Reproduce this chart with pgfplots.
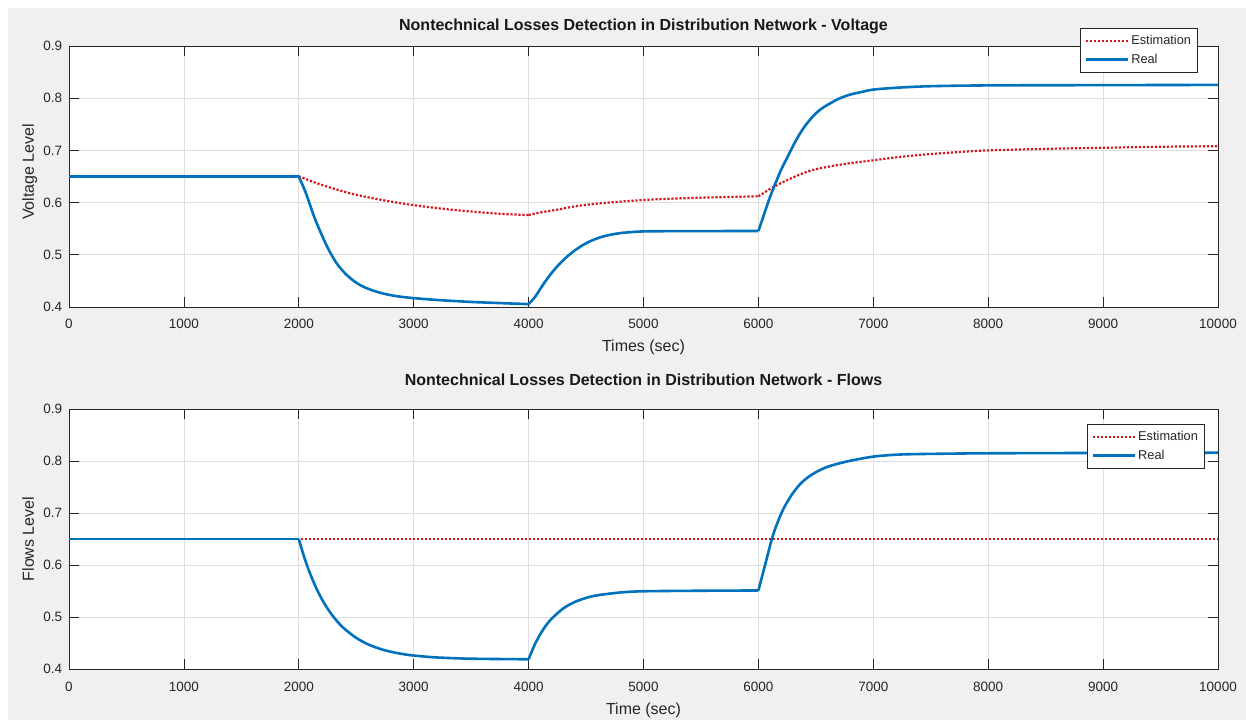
\documentclass[border=0pt]{standalone}
\usepackage{pgfplots}
\pgfplotsset{compat=1.18}
\usepackage{fontspec}
\setmainfont{Liberation Sans}
\definecolor{mblue}{rgb}{0,0.447,0.741}
\definecolor{mred}{RGB}{215,20,30}
\definecolor{axc}{rgb}{0.15,0.15,0.15}
\definecolor{gridc}{rgb}{0.87,0.87,0.87}
\definecolor{figbg}{RGB}{240,240,240}
\pgfplotsset{
 common/.style={
  scale only axis, width=1149pt,
  xmin=0, xmax=10000, ymin=0.4, ymax=0.9,
  axis background/.style={fill=white},
  xtick={0,1000,2000,3000,4000,5000,6000,7000,8000,9000,10000},
  ytick={0.4,0.5,0.6,0.7,0.8,0.9},
  scaled x ticks=false,
  /pgf/number format/assume math mode=true,
  /pgf/number format/1000 sep={},
  yticklabel style={/pgf/number format/fixed, /pgf/number format/precision=1, anchor=east, inner sep=0pt, xshift=-6.7pt},
  xticklabel style={anchor=base, inner sep=0pt, yshift=-22pt},
  tick label style={font=\fontsize{13.5}{15}\selectfont, text=axc},
  tick align=inside, major tick length=10pt,
  tick style={axc, line width=0.8pt},
  axis line style={axc, line width=0.8pt},
  grid=major, major grid style={gridc, line width=0.7pt},
  title style={font=\bfseries\fontsize{16}{18}\selectfont, text=black!90, at={(0.5,1)}, anchor=base, inner sep=0pt, yshift=9pt},
  xlabel style={at={(axis description cs:0.5,0)}, anchor=base, inner sep=0pt, yshift=-45pt, font=\fontsize{16}{18}\selectfont, text=axc},
  ylabel style={anchor=base, inner sep=0pt, font=\fontsize{16}{18}\selectfont, text=axc},
  legend cell align=left,
  legend image code/.code={\draw[#1] (0pt,0pt) -- (42pt,0pt);},
  legend style={draw=axc, line width=0.6pt, fill=white, font=\fontsize{12.8}{15}\selectfont, text=axc, inner xsep=4pt, inner ysep=5pt, row sep=4pt},
 },
 estim/.style={mred, line width=2.2pt, dash pattern=on 2.2pt off 1.8pt},
 real/.style={mblue, line width=2.6pt, line join=round},
}
\begin{document}
\begin{tikzpicture}
\fill[white] (0,0) rectangle (1246pt,720pt);
\fill[figbg] (8pt,0) rectangle (1246pt,712pt);
\fill[white] (69pt,413pt) rectangle (1218pt,674pt);
\fill[white] (69pt,51pt) rectangle (1218pt,311pt);
\begin{axis}[common, at={(69pt,413pt)}, anchor=south west, height=261pt,
  title={Nontechnical Losses Detection in Distribution Network - Voltage},
  xlabel={Times (sec)}, ylabel={Voltage Level},
  ylabel style={at={(axis description cs:-0.0305,0.518)}},
  legend style={at={(0.982,1.069)}, anchor=north east}]
\addplot[estim] coordinates {(0,0.65)(2000,0.6506)};
\addlegendentry{Estimation}
\addplot[estim, smooth, forget plot] coordinates {
(2000,0.6506)(2150,0.6376)(2300,0.627)(2450,0.6176)(2588,0.6108)(2800,0.602)(3000,0.5951)(3313,0.5867)(3603,0.5811)(3800,0.578)(4000,0.5761)};
\addplot[estim, smooth, forget plot] coordinates {
(4000,0.5761)(4100,0.581)(4250,0.5864)(4400,0.5927)(4550,0.5969)(4700,0.6001)(5000,0.605)(5300,0.608)(5600,0.610)(6000,0.612)};
\addplot[estim, smooth, forget plot] coordinates {
(6000,0.612)(6050,0.619)(6100,0.626)(6175,0.635)(6250,0.643)(6375,0.655)(6500,0.664)(6750,0.674)(7000,0.681)(7250,0.688)(7500,0.693)(7750,0.697)(8000,0.700)(8500,0.703)(9000,0.705)(9500,0.707)(10000,0.708)};
\addplot[real] coordinates {(0,0.65)(2000,0.65)};
\addlegendentry{Real}
\addplot[real, smooth, forget plot] coordinates {
(2000,0.65)(2055,0.622)(2100,0.594)(2142,0.568)(2200,0.538)(2258,0.5106)(2330,0.4835)(2403,0.4645)(2475,0.4505)(2548,0.4403)(2620,0.4335)(2693,0.4282)(2765,0.4242)(2838,0.4212)(2920,0.4188)(3000,0.417)(3200,0.4135)(3500,0.4097)(3750,0.4075)(4000,0.4055)};
\addplot[real, smooth, forget plot] coordinates {
(4000,0.4055)(4055,0.419)(4100,0.434)(4142,0.448)(4200,0.465)(4258,0.480)(4330,0.4955)(4403,0.5085)(4475,0.519)(4548,0.5272)(4620,0.5332)(4693,0.5375)(4765,0.5405)(4838,0.5425)(5000,0.5448)(5300,0.5453)(6000,0.5456)};
\addplot[real, smooth, forget plot] coordinates {
(6000,0.5456)(6050,0.578)(6100,0.610)(6150,0.638)(6200,0.664)(6250,0.686)(6300,0.708)(6350,0.728)(6400,0.745)(6450,0.759)(6500,0.771)(6550,0.780)(6600,0.787)(6700,0.799)(6800,0.807)(6900,0.812)(7000,0.8165)(7200,0.820)(7500,0.823)(8000,0.8245)(9000,0.825)(10000,0.8255)};
\end{axis}
\begin{axis}[common, at={(69pt,51pt)}, anchor=south west, height=260pt,
  title={Nontechnical Losses Detection in Distribution Network - Flows},
  title style={yshift=8.5pt},
  xlabel={Time (sec)}, ylabel={Flows Level},
  ylabel style={at={(axis description cs:-0.0305,0.5)}},
  legend style={at={(0.988,0.942)}, anchor=north east}]
\addplot[estim] coordinates {(0,0.65)(10000,0.65)};
\addlegendentry{Estimation}
\addplot[real] coordinates {(0,0.65)(2000,0.65)};
\addlegendentry{Real}
\addplot[real, smooth, forget plot] coordinates {
(2000,0.65)(2025,0.6309)(2050,0.6133)(2075,0.5972)(2100,0.5825)(2150,0.5565)(2200,0.5347)(2250,0.5163)(2300,0.5008)(2350,0.4877)(2400,0.4768)(2500,0.4598)(2600,0.4477)(2700,0.4392)(2800,0.4332)(2900,0.4289)(3000,0.4259)(3200,0.4222)(3500,0.4198)(4000,0.4187)};
\addplot[real, smooth, forget plot] coordinates {
(4000,0.4187)(4050,0.4453)(4100,0.4664)(4150,0.4833)(4200,0.4967)(4300,0.5162)(4400,0.5287)(4500,0.5367)(4600,0.5418)(4800,0.5472)(5000,0.5495)(5500,0.5505)(6000,0.551)};
\addplot[real, smooth, forget plot] coordinates {
(6000,0.551)(6058,0.600)(6116,0.649)(6160,0.678)(6218,0.708)(6290,0.735)(6363,0.7555)(6436,0.7695)(6509,0.7795)(6580,0.787)(6654,0.7925)(6799,0.8005)(7003,0.8085)(7235,0.8125)(7600,0.814)(8000,0.8148)(9000,0.8155)(10000,0.816)};
\end{axis}
\pgfresetboundingbox
\path[use as bounding box] (0,0) rectangle (1246pt,720pt);
\end{tikzpicture}
\end{document}
